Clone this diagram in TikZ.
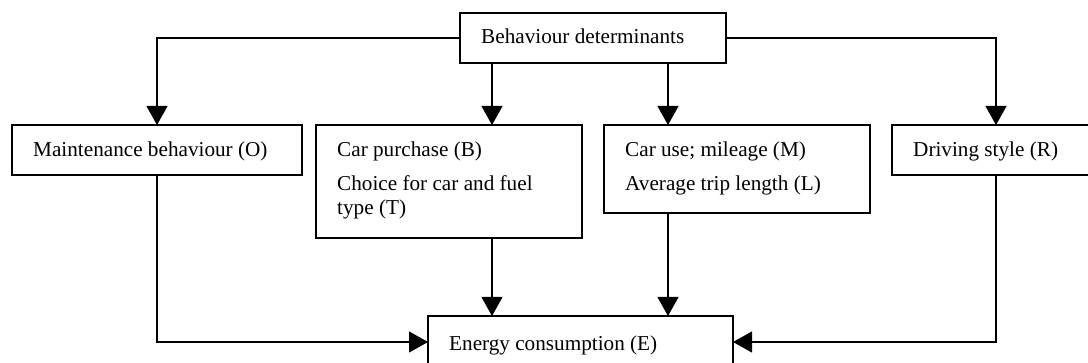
\documentclass[tikz,border=0pt]{standalone}
\usepackage{fontspec}
\setmainfont{Liberation Serif}
\usetikzlibrary{arrows.meta}
\begin{document}
\begin{tikzpicture}[x=1pt,y=-1pt,
  box/.style={draw, line width=1.4pt, inner sep=0pt, outer sep=0pt, anchor=north west},
  txt/.style={inner sep=0pt, anchor=base west, font=\fontsize{21.2}{24}\selectfont},
  arr/.style={line width=1.1pt, -{Triangle[length=19pt,width=21pt]}},
  link/.style={line width=1.1pt}]
\useasboundingbox (0,0) rectangle (1088,363);
\clip (0,0) rectangle (1088,363);

% boxes
\node[box, minimum width=266pt, minimum height=50pt] (top) at (460,13) {};
\node[box, minimum width=290pt, minimum height=50pt] (maint) at (12,125) {};
\node[box, minimum width=266pt, minimum height=113pt] (carp) at (316,125) {};
\node[box, minimum width=266pt, minimum height=88pt] (caruse) at (604,125) {};
\node[box, minimum width=208pt, minimum height=50pt] (drive) at (892,125) {};
\node[box, minimum width=305pt, minimum height=52pt] (energy) at (428,316) {};

% labels
\node[txt] (ttop) at (481,44) {Behaviour determinants};
\node[txt] (tmaint) at (33,157) {Maintenance behaviour (O)};
\node[txt] (tcarp1) at (337,157) {Car purchase (B)};
\node[txt] (tcarp2) at (337,191) {Choice for car and fuel};
\node[txt] (tcarp3) at (337,215) {type (T)};
\node[txt] (tuse1) at (625,157) {Car use; mileage (M)};
\node[txt] (tuse2) at (625,191) {Average trip length (L)};
\node[txt] (tdrive) at (913,157) {Driving style (R)};
\node[txt] (tenergy) at (449,351) {Energy consumption (E)};

% columns of the vertical connectors
\coordinate (xB) at (492,0);
\coordinate (xM) at (668,0);

% connectors
\draw[arr] (top.west) -| (maint.north);
\draw[arr] (top.east) -| (drive.north);
\draw[arr] (top.south -| xB) -- (carp.north -| xB);
\draw[arr] (top.south -| xM) -- (caruse.north -| xM);
\draw[arr] (carp.south -| xB) -- (energy.north -| xB);
\draw[arr] (caruse.south -| xM) -- (energy.north -| xM);
\draw[arr] (maint.south) |- (energy.west);
\draw[arr] (drive.south) |- (energy.east);
\end{tikzpicture}
\end{document}
